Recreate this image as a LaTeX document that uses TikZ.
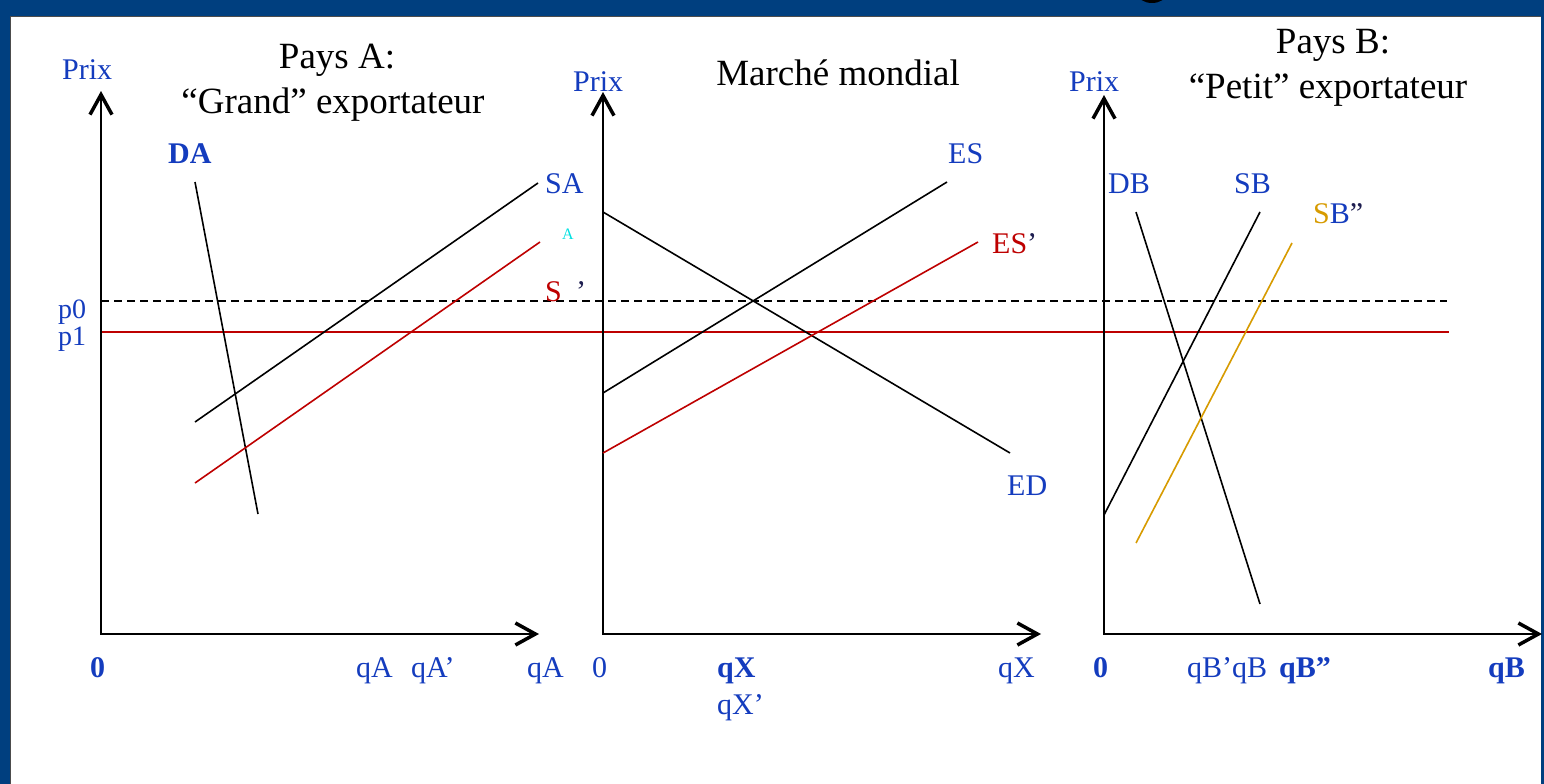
\documentclass[tikz,border=0pt]{standalone}
\usepackage{fontspec}
\setmainfont{Liberation Serif}
\usetikzlibrary{arrows.meta}
\definecolor{frameblue}{RGB}{0,63,127}
\definecolor{lblue}{RGB}{20,60,190}
\definecolor{cred}{RGB}{190,0,0}
\definecolor{gold}{RGB}{215,155,0}
\definecolor{aqua}{RGB}{0,225,225}
\definecolor{navy}{RGB}{30,30,80}
\begin{document}
\begin{tikzpicture}[x=1pt,y=-1pt,
  axis/.style={black,line width=2pt,-{Straight Barb[length=20pt,width=22pt,line width=3.5pt]}},
  curve/.style={black,line width=1.6pt},
  rcurve/.style={cred,line width=1.6pt},
  gcurve/.style={gold,line width=1.6pt},
  lab/.style={inner sep=0pt,anchor=base west,text=lblue,font=\fontsize{30}{36}\selectfont},
  blab/.style={lab,font=\fontsize{30}{36}\selectfont\bfseries},
  ttl/.style={inner sep=0pt,anchor=base,font=\fontsize{37}{44}\selectfont},
]
\useasboundingbox (0,0) rectangle (1544,784);
% frame
\fill[frameblue] (0,0) rectangle (1544,784);
\fill[white] (10,17) rectangle (1541,784);
\draw[black!70,line width=1pt] (10,784) -- (10,17) -- (1541,17);
\begin{scope}
  \clip (1130,0) rectangle (1175,3);
  \fill[black] (1152,-6) ellipse (14 and 9);
\end{scope}

% ---------- coordinates ----------
\coordinate (oA) at (101,634);
\coordinate (yA) at (101,91);
\coordinate (xA) at (539,634);
\coordinate (oM) at (603,634);
\coordinate (yM) at (603,92);
\coordinate (xM) at (1041,634);
\coordinate (oB) at (1104,634);
\coordinate (yB) at (1104,95);
\coordinate (xB) at (1542,634);

% titles
\node[ttl] (tA1) at (337,68) {Pays A:};
\node[ttl] (tA2) at (333,113) {“Grand” exportateur};
\node[ttl] (tM) at (838,85) {Marché mondial};
\node[ttl] (tB1) at (1333,53) {Pays B:};
\node[ttl] (tB2) at (1328,98) {“Petit” exportateur};

% price lines
\coordinate (p0s) at (101,301);
\coordinate (p0e) at (1447,301);
\coordinate (p1s) at (101,332);
\coordinate (p1e) at (1449,332);
\draw[black,line width=2.2pt,dash pattern=on 8pt off 5pt] (p0s) -- (p0e);
\draw[cred,line width=1.8pt] (p1s) -- (p1e);

% axes
\draw[axis] (oA) -- (yA);
\draw[axis] ([xshift=-1pt]oA) -- (xA);
\draw[axis] (oM) -- (yM);
\draw[axis] ([xshift=-1pt]oM) -- (xM);
\draw[axis] (oB) -- (yB);
\draw[axis] ([xshift=-1pt]oB) -- (xB);

% Panel A curves
\coordinate (da1) at (195,182);
\coordinate (da2) at (258,514);
\coordinate (sa1) at (195,422);
\coordinate (sa2) at (538,183);
\coordinate (sb1) at (195,483);
\coordinate (sb2) at (540,242);
\draw[curve] (da1) -- (da2);
\draw[curve] (sa1) -- (sa2);
\draw[rcurve] (sb1) -- (sb2);

% Middle curves
\coordinate (ed1) at (603,212);
\coordinate (ed2) at (1010,453);
\coordinate (es1) at (603,393);
\coordinate (es2) at (947,182);
\coordinate (esp1) at (603,453);
\coordinate (esp2) at (978,242);
\draw[curve] (ed1) -- (ed2);
\draw[curve] (es1) -- (es2);
\draw[rcurve] (esp1) -- (esp2);

% Panel B curves
\coordinate (db1) at (1136,212);
\coordinate (db2) at (1260,604);
\coordinate (sbB1) at (1104,515);
\coordinate (sbB2) at (1260,212);
\coordinate (sbb1) at (1136,543);
\coordinate (sbb2) at (1292,243);
\draw[curve] (db1) -- (db2);
\draw[curve] (sbB1) -- (sbB2);
\draw[gcurve] (sbb1) -- (sbb2);

% labels
\node[lab] (prA) at (62,80) {Prix};
\node[lab] (prM) at (573,92) {Prix};
\node[lab] (prB) at (1069,92) {Prix};
\node[blab] (lDA) at (168,163) {DA};
\node[lab] (lSA) at (545,193) {SA};
\node[lab,text=aqua,font=\fontsize{16}{19}\selectfont] (lAs) at (562,239) {A};
\node[lab,text=cred] (lS) at (545,301) {S};
\node[lab,text=navy] (lSq) at (576,301) {’};
\node[lab,font=\fontsize{28}{33}\selectfont] (lp0) at (58,318) {p0};
\node[lab,font=\fontsize{28}{33}\selectfont] (lp1) at (58,345) {p1};
\node[lab] (lES) at (948,163) {ES};
\node[lab,text=cred] (lESp) at (992,253) {ES\textcolor{navy}{’}};
\node[lab] (lED) at (1007,495) {ED};
\node[lab] (lDB) at (1108,193) {DB};
\node[lab] (lSB) at (1234,193) {SB};
\node[lab] (lSBb) at (1313,223) {\textcolor{gold}{S}B\textcolor{navy}{”}};

% axis labels
\node[blab] (z0A) at (90,677) {0};
\node[lab] (qA1) at (356,677) {qA};
\node[lab] (qA2) at (411,677) {qA’};
\node[lab] (qA3) at (527,677) {qA};
\node[lab] (z0M) at (592,677) {0};
\node[blab] (qX1) at (717,677) {qX};
\node[lab] (qX2) at (717,714) {qX’};
\node[lab] (qX3) at (998,677) {qX};
\node[blab] (z0B) at (1093,677) {0};
\node[lab] (qB1) at (1187,677) {qB’qB};
\node[blab] (qB2) at (1279,677) {qB”};
\node[blab] (qB3) at (1488,677) {qB};
\end{tikzpicture}
\end{document}
